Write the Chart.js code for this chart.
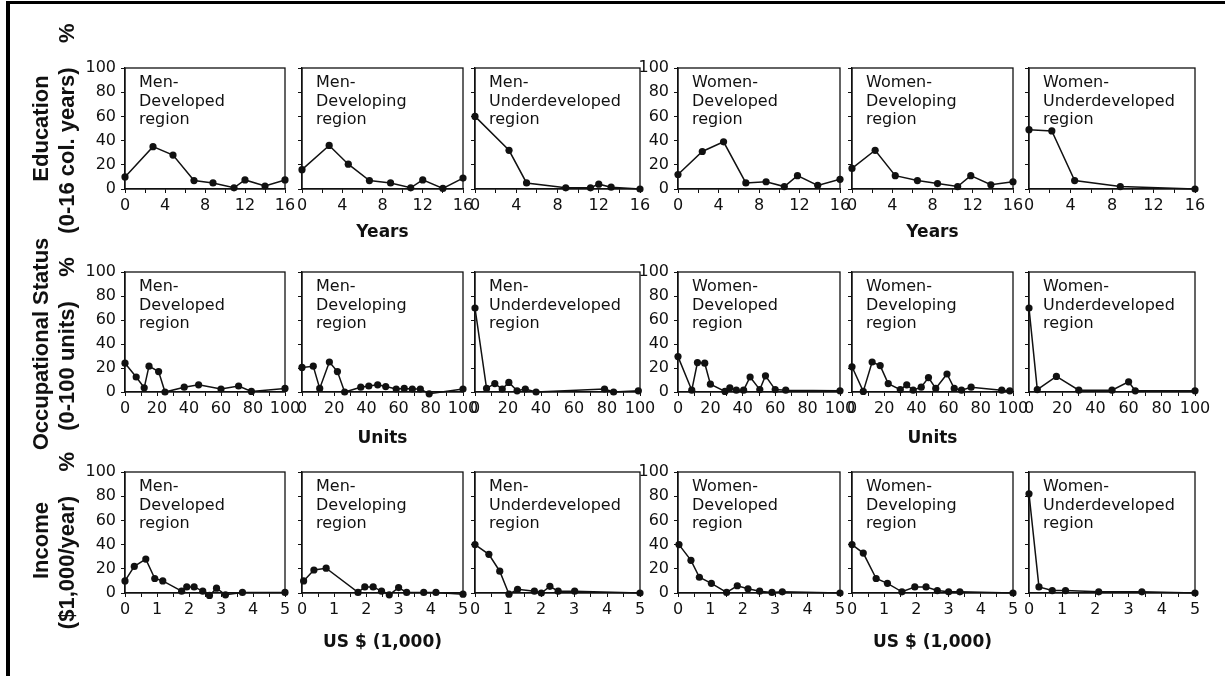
<!DOCTYPE html>
<html>
<head>
<meta charset="utf-8">
<script src="https://cdn.jsdelivr.net/npm/chart.js@4.4.0/dist/chart.umd.min.js"></script>
<style>
    body { margin: 0; background: #fff; }
    #fig { position: relative; width: 1225px; height: 676px; overflow: hidden; background: #fff; }
    #frame { position: absolute; left: 6px; top: 1px; width: 1300px; height: 800px; border-left: 4px solid #000; border-top: 3px solid #000; }
    canvas { position: absolute; }
</style>
</head>
<body>
<div id="fig"><div id="frame"></div></div>
<script>
// Panel captions (same for every row)
const panelLabels = [
    ['Men-', 'Developed', 'region'],
    ['Men-', 'Developing', 'region'],
    ['Men-', 'Underdeveloped', 'region'],
    ['Women-', 'Developed', 'region'],
    ['Women-', 'Developing', 'region'],
    ['Women-', 'Underdeveloped', 'region']
];
const rowTitles = [
    ['Education', '(0-16 col. years)    %'],
    ['Occupational Status', '(0-100 units)    %'],
    ['Income', '($1,000/year)    %']
];
const xTitles = ['Years', 'Units', 'US $ (1,000)'];
const xMax = [16, 100, 5];
const xStep = [2, 10, 0.5];
const xLabelEvery = [4, 20, 1];

// Education (years)
const eduX = [
    [0, 2.8, 4.8, 6.9, 8.8, 10.9, 12, 14, 16],
    [0, 2.7, 4.6, 6.7, 8.8, 10.8, 12, 14, 16],
    [0, 3.3, 5, 8.8, 11.2, 12, 13.2, 16],
    [0, 2.4, 4.5, 6.7, 8.7, 10.5, 11.8, 13.8, 16],
    [0, 2.3, 4.3, 6.5, 8.5, 10.5, 11.8, 13.8, 16],
    [0, 2.2, 4.4, 8.8, 16]
];
const eduY = [
    [10, 35, 28, 7, 5, 1, 7.5, 2.5, 7.5],
    [16, 36, 20.5, 7, 5, 1, 7.5, 0.5, 9],
    [60, 32, 5, 1, 1, 4, 1.5, 0],
    [12, 31, 39, 5, 6, 2, 11, 3, 8],
    [17, 32, 11, 7, 4.5, 2, 11, 3.5, 6],
    [49, 48, 7, 2, 0]
];

// Occupational status (units)
const occX = [
    [0, 7, 12, 15, 21, 25, 37, 46, 60, 71, 79, 100],
    [0, 7, 11, 17, 22, 26.5, 36.5, 41.5, 47, 52, 58.5, 63.5, 68.5, 73.5, 79, 100],
    [0, 7, 12, 16.5, 20.5, 25.5, 30.5, 37, 78.5, 84, 99],
    [0, 8.5, 12, 16.5, 20, 29, 32, 36, 40.5, 44.5, 50.5, 54, 60, 66.5, 100],
    [0, 7, 12.5, 17.5, 22.5, 30, 34, 38, 43, 47.5, 52, 59, 63.5, 68, 74, 93, 98],
    [0, 5, 16.5, 30, 50, 60, 64, 100]
];
const occY = [
    [24, 12.5, 3.5, 21.5, 17, 0, 4, 6, 2.5, 5, 0.5, 3],
    [20.5, 21.5, 3, 25, 17, 0, 4, 5, 6, 4.5, 2.5, 3, 2.5, 2.5, -1.5, 2.5],
    [70, 3, 7, 2.5, 8, 1, 2.5, 0, 2.5, 0, 1],
    [29.5, 1.5, 24.5, 24, 6.5, 0.5, 3.5, 1.5, 1.5, 12.5, 2, 13.5, 2, 1.5, 1],
    [21, 0.5, 25, 22, 7, 2, 6, 1.5, 4, 12, 3, 15, 3, 1.5, 4, 1.5, 1],
    [70, 2, 13, 1.5, 1.5, 8.5, 1, 1]
];

// Income (US $ 1,000)
const incX = [
    [0, 0.29, 0.65, 0.93, 1.18, 1.77, 1.93, 2.16, 2.43, 2.64, 2.86, 3.14, 3.67, 5],
    [0.05, 0.37, 0.75, 1.74, 1.95, 2.21, 2.47, 2.71, 3.0, 3.25, 3.78, 4.16, 5],
    [0, 0.42, 0.75, 1.03, 1.29, 1.8, 2.01, 2.27, 2.52, 3.02, 5],
    [0.03, 0.4, 0.66, 1.03, 1.5, 1.83, 2.16, 2.52, 2.9, 3.22, 5],
    [0, 0.35, 0.75, 1.1, 1.55, 1.95, 2.3, 2.65, 3.0, 3.35, 5],
    [0, 0.3, 0.7, 1.1, 2.1, 3.4, 5]
];
const incY = [
    [10, 22, 28, 12, 10, 1.5, 5, 5, 1.5, -2, 4, -1.5, 0.5, 0.5],
    [10, 19, 20.5, 0.5, 5, 5, 1.5, -1.5, 4.5, 0.5, 0.5, 0.5, -1],
    [40, 32, 18, -1, 3, 1.5, 0, 5.5, 1.5, 1.5, 0],
    [40, 27, 13, 8, 0.5, 6, 3.5, 1.5, 0.5, 1, 0],
    [40, 33, 12, 8, 1, 5, 5, 2, 1, 1, 0],
    [82, 5, 2, 2, 1, 1, 0]
];

const rowsX = [eduX, occX, incX];
const rowsY = [eduY, occY, incY];

// layout of the grid (pixels)
const plotLeft = [125, 302, 475, 678, 852, 1029];
const plotW = [160, 161, 165, 162, 161, 166];
const plotTop = [68, 272, 472];
const plotH = [121, 120, 121];
const xTitleDist = [44, 47, 50];
const rowTitleShift = [0, 12, 8];
const T = 60, B = 80, R = 20;

const tickFont = { family: 'DejaVu Sans', size: 16 };
const ink = '#111';

function makeDecor(label, rowTitle, row) {
    return {
        id: 'decor',
        afterDraw(chart) {
            const ctx = chart.ctx;
            const a = chart.chartArea;
            ctx.save();
            ctx.strokeStyle = ink;
            ctx.lineWidth = 1.3;
            ctx.strokeRect(a.left, a.top, a.right - a.left, a.bottom - a.top);
            ctx.fillStyle = ink;
            ctx.font = '16px "DejaVu Sans"';
            ctx.textAlign = 'left';
            ctx.textBaseline = 'alphabetic';
            label.forEach((line, i) => ctx.fillText(line, a.left + 14, a.top + 19 + i * 18.5));
            if (rowTitle) {
                ctx.font = 'bold 22px "Liberation Sans"';
                ctx.textAlign = 'center';
                ctx.textBaseline = 'middle';
                const cy = (a.top + a.bottom) / 2 + rowTitleShift[row];
                rowTitle.forEach((line, i) => {
                    ctx.save();
                    ctx.translate(30 + i * 26, cy);
                    ctx.rotate(-Math.PI / 2);
                    ctx.fillText(line, 0, 0);
                    ctx.restore();
                });
            }
            ctx.restore();
        }
    };
}

function drawPanel(row, col) {
    const L = col === 0 ? 113 : 45;
    const canvas = document.createElement('canvas');
    const w = L + plotW[col] + R;
    const h = T + plotH[row] + B;
    canvas.width = w;
    canvas.height = h;
    canvas.style.width = w + 'px';
    canvas.style.height = h + 'px';
    canvas.style.left = (plotLeft[col] - L) + 'px';
    canvas.style.top = (plotTop[row] - T) + 'px';
    document.getElementById('fig').appendChild(canvas);

    const xs = rowsX[row][col];
    const ys = rowsY[row][col];
    const pts = xs.map((x, i) => ({ x: x, y: ys[i] }));
    const showY = col === 0 || col === 3;
    const showXTitle = col === 1 || col === 4;
    const every = xLabelEvery[row];

    new Chart(canvas.getContext('2d'), {
        type: 'scatter',
        data: {
            datasets: [{
                data: pts,
                showLine: true,
                borderColor: ink,
                borderWidth: 1.5,
                pointRadius: 3.6,
                pointBackgroundColor: ink,
                pointBorderWidth: 0,
                clip: false
            }]
        },
        options: {
            responsive: false,
            animation: false,
            events: [],
            layout: { padding: { left: 0, right: R, top: T, bottom: 0 }, autoPadding: false },
            plugins: { legend: { display: false }, tooltip: { enabled: false } },
            scales: {
                x: {
                    type: 'linear',
                    min: 0,
                    max: xMax[row],
                    afterFit: s => { s.height = B; },
                    border: { display: true, color: ink, width: 1.3 },
                    grid: { drawOnChartArea: false, drawTicks: true, tickLength: 4, color: ink },
                    ticks: {
                        stepSize: xStep[row],
                        autoSkip: false,
                        maxRotation: 0,
                        minRotation: 0,
                        padding: 3,
                        color: ink,
                        font: tickFont,
                        callback: v => (Math.abs(v / every - Math.round(v / every)) < 1e-6) ? v : ''
                    },
                    title: {
                        display: showXTitle,
                        text: xTitles[row],
                        color: ink,
                        font: { family: 'DejaVu Sans', size: 17, weight: 'bold' },
                        padding: { top: 0, bottom: B - xTitleDist[row] - 10.2 }
                    }
                },
                y: {
                    min: 0,
                    max: 100,
                    afterFit: s => { s.width = L; },
                    border: { display: true, color: ink, width: 1.3 },
                    grid: { drawOnChartArea: false, drawTicks: true, tickLength: 4, color: ink },
                    ticks: {
                        stepSize: 10,
                        padding: 5,
                        color: ink,
                        font: tickFont,
                        callback: v => (showY && v % 20 === 0) ? v : ''
                    }
                }
            }
        },
        plugins: [makeDecor(panelLabels[col], col === 0 ? rowTitles[row] : null, row)]
    });
}

for (let r = 0; r < 3; r++) {
    for (let c = 0; c < 6; c++) {
        drawPanel(r, c);
    }
}
</script>
</body>
</html>
